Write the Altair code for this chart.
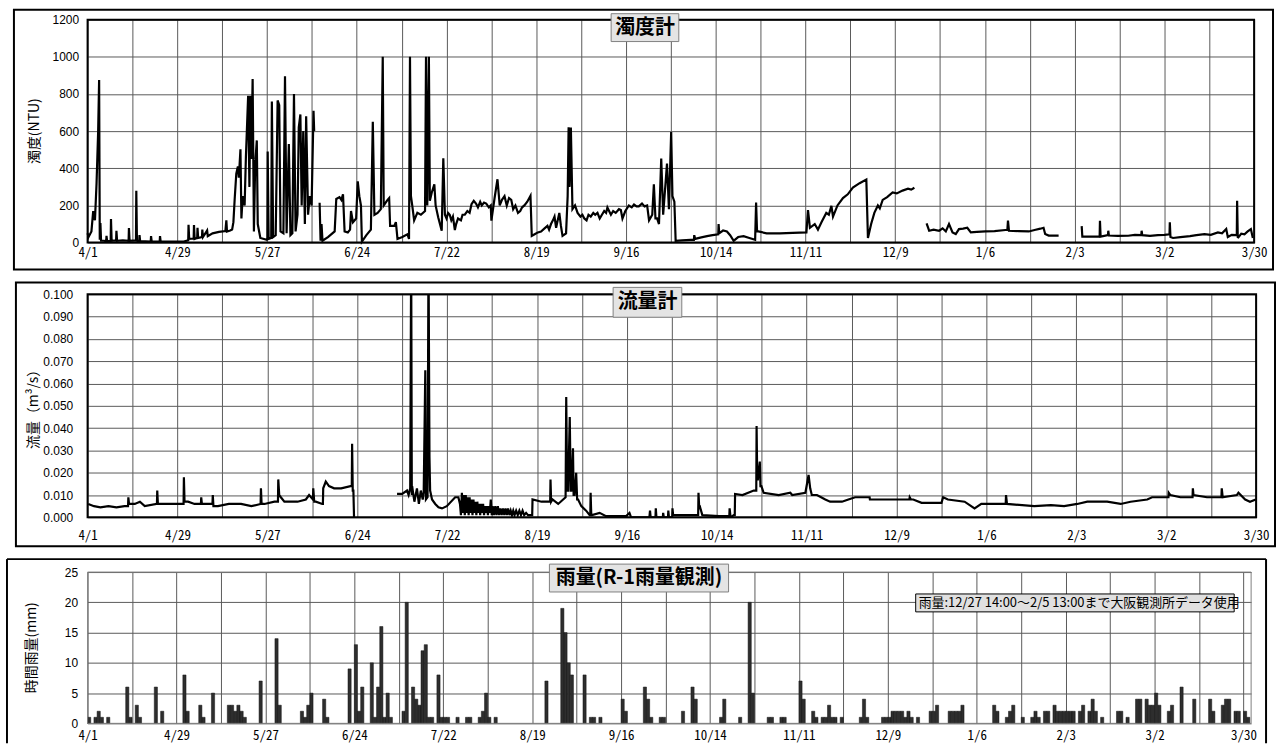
import json
import altair as alt
import pandas as pd

# ---------------- data ----------------
x_labels = ["4/1", "4/29", "5/27", "6/24", "7/22", "8/19", "9/16", "10/14",
            "11/11", "12/9", "1/6", "2/3", "3/2", "3/30"]
tick_days = list(range(0, 365, 14))   # days since 4/1

# turbidity (NTU): (day since 4/1, value) — four recorded segments
turb_a = [(0.0,50),(0.3,30),(1.2,60),(1.75,170),(2.3,120),(2.8,320),(3.3,600),(3.6,875),(3.8,15),(4.0,105),
          (4.2,10),(5.0,10),(5.8,8),(5.9,36),(6.1,8),(7.2,10),(7.3,127),(7.5,10),(8.9,12),(9.0,64),
          (9.2,10),(11.0,12),(12.8,10),(12.9,79),(13.1,10),(15.1,12),(15.2,279),(15.4,10),(16.1,8),(16.2,40),
          (16.4,8),(19.7,6),(19.8,35),(20.0,6),(22.5,5),(22.6,35),(22.8,5),(26.0,5),(30.0,6),(31.4,12),
          (31.5,96),(31.7,20),(33.1,22),(33.2,95),(33.4,20),(34.2,25),(34.3,80),(34.5,25),(35.7,30),(35.8,70),
          (36.0,30),(37.3,65),(37.5,35),(39.0,50),(41.0,58),(43.0,62),(43.3,120),(43.5,60),(44.5,65),(45.1,70),
          (45.5,110),(45.9,235),(46.4,371),(46.9,410),(47.2,350),(47.7,502),(48.0,130),(48.4,250),(49.0,200),(49.4,460),
          (50.1,790),(50.5,300),(50.8,790),(51.1,450),(51.5,880),(51.9,60),(52.3,420),(52.8,550),(53.1,100),(53.9,25),
          (55.9,15),(56.1,20),(56.2,490),(56.5,20),(57.3,25),(57.5,760),(57.9,30),(58.7,40),(59.3,765),(59.8,740),
          (60.2,60),(61.1,50),(61.6,895),(62.1,50),(62.8,530),(63.3,40),(63.9,50),(64.4,800),(64.9,60),(65.5,150),
          (65.9,620),(66.4,690),(66.8,200),(67.3,600),(67.8,100),(68.2,680),(68.8,150),(69.3,250),(69.9,200),(70.5,710),
          (70.7,600)]
turb_b = [(72.4,215),(72.7,10),(73.0,100),(73.3,10),(75.0,30),(77.1,60),(77.6,235),(78.6,245),(79.2,230),(79.7,260),
          (80.2,60),(81.2,55),(81.9,70),(82.2,170),(82.8,110),(83.8,130),(84.3,330),(84.8,250),(85.3,200),(85.6,5),
          (87.0,40),(88.4,70),(89.0,650),(89.5,150),(90.5,160),(91.5,180),(92.1,1000),(92.4,200),(93.6,230),(94.1,240),
          (94.4,90),(95.7,90),(96.2,110),(96.7,20),(98.2,30),(99.8,45),(100.3,20),(100.6,1000),(100.9,250),(101.3,200),
          (101.9,120),(102.9,160),(104.0,150),(105.3,170),(105.6,1000),(106.0,200),(106.5,1000),(106.8,225),(107.4,270),(108.2,314),
          (108.6,200),(109.4,136),(110.5,64),(111.0,454),(111.5,150),(112.0,130),(112.5,160),(113.0,150),(113.5,120),(114.0,140),
          (114.6,68),(115.0,100),(115.6,130),(116.5,120),(117.0,150),(117.7,150),(118.5,170),(119.2,160),(119.8,207),(120.5,225),
          (121.2,210),(121.8,190),(122.5,220),(123.0,200),(123.7,215),(124.4,210),(125.2,190),(125.8,200),(126.0,118),(127.0,240),
          (127.9,341),(128.6,200),(129.3,230),(130.1,250),(130.8,200),(131.5,240),(132.2,230),(132.8,180),(133.5,200),(134.3,160),
          (135.0,170),(135.6,190),(136.3,200),(137.2,220),(138.2,252),(138.6,36),(139.5,45),(140.5,55),(141.5,60),(142.5,75),
          (143.5,90),(144.0,70),(144.6,100),(145.2,120),(145.7,140),(146.2,80),(147.2,160),(147.7,90),(148.2,36),(149.3,50),
          (149.8,250),(150.1,621),(150.4,300),(150.8,620),(151.3,180),(152.1,200),(152.9,160),(153.8,140),(154.4,150),(155.0,130),
          (155.7,120),(156.3,150),(157.0,140),(157.8,160),(158.4,150),(159.1,160),(159.8,130),(160.5,150),(161.2,170),(161.8,160),
          (162.2,189),(163.3,150),(164.0,170),(164.8,160),(165.8,180),(166.4,175),(166.9,130),(167.8,170),(168.9,200),(169.8,190),
          (170.5,205),(171.3,195),(172.0,195),(173.0,210),(173.8,195),(174.6,200),(175.2,120),(176.2,150),(176.7,314),(177.2,130),
          (177.7,130),(178.3,100),(179.0,452),(179.6,150),(180.8,425),(181.4,180),(182.1,595),(182.5,250),(183.1,220),(183.5,10),
          (185.5,12),(188.1,15),(189.2,15),(189.3,40),(189.6,20),(191.5,28),(193.3,35),(195.0,40),(196.8,45),(196.9,100),
          (197.1,50),(198.3,65),(199.5,60),(200.5,40),(201.6,10),(203.0,30),(204.7,35),(206.5,25),(208.3,15),(208.6,216),
          (208.9,60),(209.3,60),(211.9,50),(216.0,50),(220.0,52),(224.3,55),(224.8,175),(225.4,80),(226.9,100),(227.9,70),
          (229.0,110),(230.5,160),(231.3,150),(232.1,198),(232.6,140),(234.0,200),(235.7,240),(237.2,260),(238.8,296),(240.9,320),
          (243.0,339),(243.5,25),(244.5,100),(245.5,160),(246.6,200),(247.2,185),(248.1,230),(249.5,245),(251.2,270),(252.5,265),
          (254.3,280),(256.0,290),(257.0,285),(258.0,295)]
turb_c = [(261.8,104),(262.6,64),(264.0,70),(265.7,64),(266.8,77),(267.8,60),(268.8,100),(269.9,55),(270.9,46),(271.9,73),
          (273.2,75),(274.5,80),(275.6,55),(277.5,58),(280.2,60),(283.0,62),(286.4,68),(287.0,68),(287.2,118),(287.5,64),
          (290.5,62),(293.7,60),(295.5,68),(297.3,75),(298.3,80),(298.8,46),(299.9,38),(303.0,38)]
turb_d = [(310.2,89),(310.4,32),(313.0,33),(315.8,32),(315.9,118),(316.1,32),(318.4,40),(318.5,64),(318.7,38),(321.5,36),
          (324.7,37),(326.8,42),(328.8,40),(328.9,64),(329.1,40),(331.5,36),(334.0,40),(336.0,42),(337.6,45),(337.7,109),
          (337.9,30),(338.7,25),(341.0,30),(344.0,35),(346.0,40),(348.5,46),(350.5,42),(352.7,55),(354.0,50),(355.3,73),
          (355.8,30),(357.0,42),(358.6,40),(358.7,225),(358.9,30),(359.1,28),(360.0,48),(361.0,45),(362.0,60),(363.0,73),
          (363.6,25)]

# flow (m3/s): (day since 4/1, value) — two recorded segments
flow_a = [(0.2,0.006),(2.0,0.005),(4.0,0.0045),(6.5,0.005),(9.0,0.0045),(11.5,0.005),(12.6,0.005),(12.7,0.009),(12.9,0.006),(14.7,0.006),
          (16.3,0.007),(17.8,0.005),(21.6,0.006),(21.7,0.012),(21.9,0.006),(24.0,0.006),(27.1,0.006),(29.9,0.006),(30.0,0.018),(30.2,0.007),
          (31.3,0.007),(33.3,0.006),(35.3,0.006),(35.4,0.009),(35.6,0.006),(37.5,0.006),(38.9,0.006),(39.0,0.010),(39.2,0.005),(40.6,0.005),
          (44.0,0.006),(47.8,0.006),(51.0,0.005),(53.9,0.006),(54.0,0.013),(54.2,0.006),(55.1,0.006),(58.2,0.007),(59.3,0.007),(59.4,0.017),
          (59.7,0.010),(60.2,0.009),(61.3,0.007),(65.4,0.007),(68.0,0.008),(69.0,0.010),(70.2,0.008),(70.3,0.013),(70.6,0.007),(71.1,0.007),
          (73.1,0.006),(73.3,0.006),(73.4,0.013),(74.2,0.016),(75.2,0.014),(76.8,0.013),(79.0,0.013),(81.9,0.014),(82.3,0.014),(82.4,0.033),
          (82.6,0.012),(82.8,0.012),(83.0,0.0)]
flow_b = [(96.4,0.0105),(98.0,0.0105),(99.5,0.012),(100.0,0.010),(100.5,0.013),(100.8,0.12),(101.0,0.010),(101.1,0.014),(101.8,0.007),(102.6,0.013),
          (103.2,0.006),(103.8,0.012),(104.4,0.008),(104.7,0.011),(105.2,0.066),(105.4,0.008),(105.9,0.009),(106.2,0.12),(106.5,0.027),(106.7,0.012),
          (107.3,0.008),(108.3,0.006),(109.3,0.0045),(110.4,0.004),(111.9,0.005),(114.5,0.009),(115.5,0.009),(116.0,0.006),(116.3,0.001),(116.6,0.011),
          (116.9,0.002),(117.2,0.010),(117.5,0.001),(117.8,0.010),(118.1,0.002),(118.4,0.009),(118.7,0.001),(119.0,0.009),(119.3,0.002),(119.6,0.008),
          (119.9,0.001),(120.2,0.008),(120.5,0.002),(120.8,0.007),(121.1,0.001),(121.4,0.007),(121.7,0.002),(122.0,0.006),(122.3,0.001),(122.6,0.006),
          (122.9,0.002),(123.2,0.006),(123.5,0.001),(123.8,0.005),(124.1,0.002),(124.4,0.005),(124.7,0.001),(125.0,0.005),(125.3,0.002),(125.6,0.008),
          (125.9,0.001),(126.2,0.005),(126.6,0.001),(127.0,0.005),(127.4,0.001),(127.8,0.005),(128.2,0.001),(128.6,0.004),(129.0,0.001),(129.4,0.004),
          (129.8,0.001),(130.2,0.004),(130.6,0.001),(131.0,0.004),(131.4,0.001),(131.8,0.003),(132.2,0.001),(132.6,0.003),(133.0,0.001),(133.5,0.003),
          (134.0,0.001),(134.5,0.003),(135.0,0.001),(135.5,0.003),(136.0,0.001),(136.6,0.002),(137.2,0.001),(137.7,0.001),(138.5,0.001),(138.6,0.008),
          (141.4,0.007),(144.1,0.007),(144.2,0.017),(144.4,0.007),(144.8,0.008),(146.6,0.006),(148.9,0.009),(149.1,0.054),(149.4,0.012),(149.7,0.012),
          (150.2,0.045),(150.5,0.012),(150.7,0.012),(151.2,0.031),(151.4,0.010),(151.7,0.010),(152.2,0.020),(152.5,0.008),(152.8,0.008),(153.8,0.005),
          (155.3,0.003),(156.4,0.001),(156.6,0.001),(156.7,0.011),(156.9,0.001),(157.1,0.001),(159.5,0.002),(161.5,0.0005),(167.7,0.0005),(168.8,0.002),
          (169.3,0.0),(175.0,0.0),(175.2,0.003),(175.4,0.0),(176.9,0.0),(177.0,0.004),(177.2,0.0),(179.2,0.0),(179.3,0.002),(179.5,0.0),
          (180.8,0.0),(180.9,0.003),(181.1,0.0),(182.1,0.0),(182.2,0.004),(182.4,0.001),(183.5,0.001),(188.4,0.001),(190.2,0.001),(190.3,0.011),
          (190.5,0.005),(190.7,0.005),(191.5,0.001),(196.7,0.0005),(199.9,0.0005),(200.0,0.004),(200.3,0.0),(201.3,0.001),(201.6,0.001),(201.7,0.0105),
          (204.0,0.010),(207.5,0.012),(208.3,0.012),(208.4,0.041),(208.6,0.017),(208.8,0.017),(209.4,0.025),(209.6,0.014),(209.9,0.014),(210.6,0.011),
          (215.3,0.010),(218.9,0.011),(219.5,0.010),(223.6,0.011),(224.6,0.019),(225.1,0.013),(225.6,0.010),(227.2,0.010),(228.5,0.009),(229.8,0.008),
          (231.3,0.007),(235.0,0.007),(237.0,0.008),(239.1,0.009),(243.6,0.009),(243.7,0.008),(249.4,0.008),(256.0,0.008),(256.1,0.009),(256.5,0.008),
          (257.2,0.008),(259.8,0.0065),(266.0,0.0065),(266.5,0.009),(268.0,0.008),(273.2,0.007),(276.3,0.004),(278.4,0.006),(286.0,0.006),(286.1,0.010),
          (286.4,0.006),(294.9,0.005),(300.1,0.0055),(304.2,0.005),(308.3,0.006),(311.4,0.007),(317.6,0.007),(321.8,0.006),(324.9,0.007),(330.1,0.008),
          (331.6,0.009),(336.7,0.009),(336.8,0.011),(337.3,0.010),(340.4,0.009),(344.2,0.009),(344.3,0.013),(344.5,0.010),(348.7,0.009),(353.2,0.009),
          (353.3,0.013),(353.6,0.009),(358.0,0.010),(358.5,0.011),(360.6,0.008),(362.1,0.007),(363.9,0.008)]

# hourly rainfall (mm): (day since 4/1, value)
rain = [(0,1),(2,1),(3,2),(4,1),(6,1),(12,6),(13,1),(15,3),(16,1),(21,6),(23,2),(30,8),(31,2),(35,3),(36,1),(39,5),
        (44,3),(45,3),(46,2),(47,3),(48,2),(49,1),(54,7),(59,14),(60,3),(67,2),(68,1),(69,3),(70,5),(74,4),(75,1),
        (82,9),(84,13),(85,2),(86,6),(89,10),(90,1),(91,6),(92,16),(93,1),(94,5),(95,1),(99,2),(100,20),(102,6),(103,4),
        (104,3),(105,12),(106,13),(107,1),(108,1),(110,8),(111,1),(112,1),(113,1),(116,1),(119,1),(120,1),(123,1),(124,2),
        (125,5),(126,1),(128,1),(144,7),(149,19),(150,15),(151,10),(152,8),(156,8),(158,1),(159,1),(161,1),(168,4),(169,2),
        (175,6),(176,4),(177,1),(180,1),(181,1),(187,2),(190,6),(191,4),(199,1),(200,4),(205,1),(208,20),(209,5),(214,1),
        (215,1),(218,1),(219,1),(224,7),(225,4),(228,2),(229,1),(231,1),(232,1),(233,3),(234,1),(235,1),(237,1),(243,1),
        (244,4),(245,1),(250,1),(251,1),(252,1),(253,2),(254,2),(255,2),(256,2),(257,1),(258,2),(259,1),(261,1),(265,2),
        (266,2),(267,3),(271,2),(272,2),(273,2),(274,2),(275,3),(285,3),(286,2),(289,1),(290,2),(291,3),(294,1),(297,1),
        (298,2),(299,1),(301,2),(302,2),(304,3),(305,2),(306,2),(307,2),(308,2),(309,2),(310,2),(312,2),(313,3),(315,2),
        (316,4),(317,2),(319,1),(324,2),(325,2),(327,1),(330,4),(331,4),(333,4),(334,3),(335,3),(336,5),(337,3),(340,2),
        (341,3),(344,6),(348,4),(353,4),(354,2),(357,3),(358,4),(359,4),(361,2),(362,2),(364,2),(365,1)]

turb_ticks = [0, 200, 400, 600, 800, 1000, 1200]
flow_ticks = [0.0, 0.01, 0.02, 0.03, 0.04, 0.05, 0.06, 0.07, 0.08, 0.09, 0.1]
rain_ticks = [0, 5, 10, 15, 20, 25]

title_turb = "濁度計"
title_flow = "流量計"
title_rain = "雨量(R-1雨量観測)"
ytitle_turb = "濁度(NTU)"
ytitle_flow = "流量（m³/s）"
ytitle_rain = "時間雨量(mm)"
note_rain = "雨量:12/27 14:00～2/5 13:00まで大阪観測所データ使用"

# ---------------- helpers ----------------
CJK = "Noto Sans CJK JP"
NUM = "Liberation Sans"
MONO = "Noto Sans Mono CJK JP, DejaVu Sans Mono, monospace"
GRID = "#5a5a5a"

lbl_expr = "datum.value % 28 === 0 ? " + json.dumps(x_labels) + "[datum.value / 28] : ''"


def segs(*parts):
    frames = []
    for i, p in enumerate(parts):
        frames.append(pd.DataFrame({"d": [a for a, _ in p], "v": [b for _, b in p], "seg": i}))
    return pd.concat(frames, ignore_index=True)


def xaxis(pad):
    return alt.Axis(values=tick_days, labelExpr=lbl_expr, grid=True, gridColor=GRID, gridWidth=1,
                    domain=False, ticks=False, tickSize=0, labelPadding=pad, labelFont=MONO,
                    labelFontSize=13, labelColor="#000000", labelOverlap=False, labelFlush=False,
                    title=None)


def yaxis(vals, fmt, pad):
    return alt.Axis(values=vals, format=fmt, grid=True, gridColor=GRID, gridWidth=1, domain=False,
                    ticks=False, tickSize=0, labelPadding=pad, labelFont=NUM, labelFontSize=12,
                    labelColor="#000000", labelOverlap=False, labelFlush=False, title=None)


one = pd.DataFrame({"k": [0]})


def box(x0, x1, y0, y1, fill, stroke, sw):
    return alt.Chart(one).mark_rect(fill=fill, stroke=stroke, strokeWidth=sw).encode(
        x=alt.value(x0), x2=alt.value(x1), y=alt.value(y0), y2=alt.value(y1))


def hrule(x0, x1, y):
    return alt.Chart(one).mark_rule(color="black", strokeWidth=2).encode(
        x=alt.value(x0), x2=alt.value(x1), y=alt.value(y))


def vrule(x, y0, y1):
    return alt.Chart(one).mark_rule(color="black", strokeWidth=2).encode(
        x=alt.value(x), y=alt.value(y0), y2=alt.value(y1))


def label(text, x, y, size, bold=False, angle=0, align="center"):
    return alt.Chart(one).mark_text(text=text, font=CJK, fontSize=size,
                                    fontWeight="bold" if bold else "normal", angle=angle,
                                    align=align, baseline="middle", color="black").encode(
        x=alt.value(x), y=alt.value(y))


# ---------------- panel 1: turbidity ----------------
W1, H1 = 1172, 224
turb_df = segs(turb_a, turb_b, turb_c, turb_d)
line1 = alt.Chart(turb_df).mark_line(color="black", strokeWidth=2.2).encode(
    x=alt.X("d:Q", scale=alt.Scale(domain=[0, 364], nice=False, zero=False), axis=xaxis(4)),
    y=alt.Y("v:Q", scale=alt.Scale(domain=[0, 1200], nice=False), axis=yaxis(turb_ticks, "d", 9)),
    detail="seg:N",
)
p1 = alt.layer(
    line1,
    box(0, W1, 0, H1, "transparent", "black", 2),
    box(-74, 1191, -10, 251, "transparent", "black", 2),
    box(526, 594, -6, 22, "#e4e4e4", "#808080", 1),
    label(title_turb, 560, 8, 20, bold=True),
    label(ytitle_turb, -53, H1 / 2, 14, angle=270),
).properties(width=W1, height=H1)

# ---------------- panel 2: flow ----------------
W2, H2 = 1174, 224
flow_df = segs(flow_a, flow_b)
line2 = alt.Chart(flow_df).mark_line(color="black", strokeWidth=2.2, clip=True).encode(
    x=alt.X("d:Q", scale=alt.Scale(domain=[0, 364], nice=False, zero=False), axis=xaxis(12)),
    y=alt.Y("v:Q", scale=alt.Scale(domain=[0, 0.1], nice=False), axis=yaxis(flow_ticks, ".3f", 15)),
    detail="seg:N",
)
p2 = alt.layer(
    line2,
    box(0, W2, 0, H2, "transparent", "black", 2),
    box(-72, 1193, -12, 253, "transparent", "black", 2),
    box(528, 597, -7, 23, "#e4e4e4", "#808080", 1),
    label(title_flow, 562.5, 8, 20, bold=True),
    label(ytitle_flow, -54, H2 / 2, 14, angle=270),
).properties(width=W2, height=H2)

# ---------------- panel 3: rainfall ----------------
W3, H3 = 1169, 152
rain_df = pd.DataFrame({"d0": [a for a, _ in rain], "v": [b for _, b in rain]})
rain_df["d1"] = rain_df["d0"] + 1
bars = alt.Chart(rain_df).mark_rect(fill="#2e2e2e", stroke="#111111", strokeWidth=0.5).encode(
    x=alt.X("d0:Q", scale=alt.Scale(domain=[0, 366.4], nice=False, zero=False), axis=xaxis(6)),
    x2="d1:Q",
    y=alt.Y("v:Q", scale=alt.Scale(domain=[0, 25], nice=False), axis=yaxis(rain_ticks, "d", 10)),
    y2=alt.datum(0),
)
p3 = alt.layer(
    bars,
    box(0, W3, 0, H3, "transparent", "#808080", 1),
    hrule(-81, 1184, -13),
    vrule(-81, -13, 172),
    vrule(1184, -13, 172),
    box(464, 644, -8, 20, "#e4e4e4", "#808080", 1),
    label(title_rain, 554, 6, 20, bold=True),
    box(832, 1152, 22, 40, "#e0e0e0", "black", 1),
    label(note_rain, 835, 31, 13, align="left"),
    label(ytitle_rain, -56, H3 / 2, 14, angle=270),
).properties(width=W3, height=H3)

chart = alt.vconcat(p1, p2, p3, spacing=11).resolve_scale(
    x="independent", y="independent"
).properties(
    padding={"left": 6, "top": 7, "right": 0, "bottom": 0}, background="white"
).configure_view(strokeWidth=0)

chart.save("out.html", embed_options={"renderer": "svg", "actions": False})
